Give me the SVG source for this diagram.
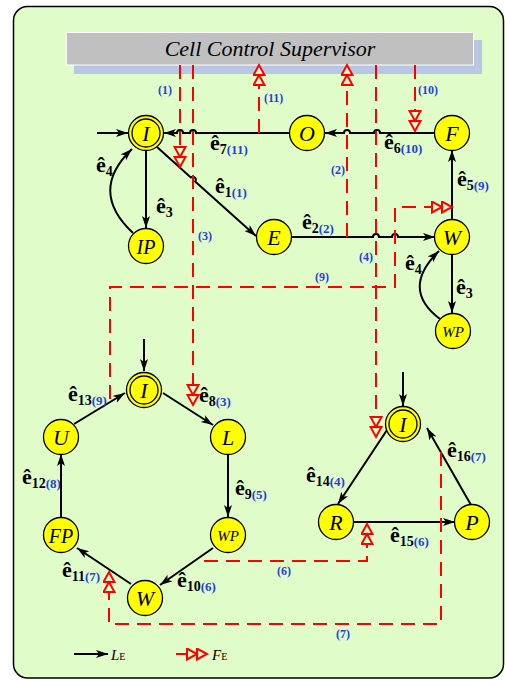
<svg xmlns="http://www.w3.org/2000/svg" width="505" height="686" viewBox="0 0 505 686">
<style>
.node circle{fill:#ffff00;stroke:#000;stroke-width:1.3}
.nt{font-family:"Liberation Serif",serif;font-style:italic;font-size:22px;text-anchor:middle;fill:#000}
.edge{fill:none;stroke:#000;stroke-width:2}
.fe{fill:none;stroke:#ff0000;stroke-width:2;stroke-dasharray:14 8}
.lab{font-family:"Liberation Serif",serif;font-weight:bold;font-size:22px;fill:#000}
.sub{font-size:14px}
.bl{font-size:13px;fill:#1f3fe0}
.num{font-family:"Liberation Serif",serif;font-weight:bold;font-size:12px;fill:#1f3fe0}
.leg{font-family:"Liberation Serif",serif;font-style:italic;font-size:15px;fill:#000}
</style>
<defs>
<marker id="ah" markerUnits="userSpaceOnUse" markerWidth="14" markerHeight="10" refX="12" refY="4" orient="auto" viewBox="0 0 14 10">
<path d="M0,0 L12,4 L0,8 L3,4 Z" fill="#000"/>
</marker>
<marker id="dah" markerUnits="userSpaceOnUse" markerWidth="24" markerHeight="14" refX="21" refY="6.5" orient="auto" viewBox="0 0 24 14">
<path d="M1,1 L11,6.5 L1,12 Z M11,1 L21,6.5 L11,12 Z" fill="#e0fcc8" stroke="#ff0000" stroke-width="2" stroke-linejoin="miter"/>
</marker>
</defs>
<rect x="13.5" y="6.5" width="490" height="671.5" rx="14" fill="#e0fcc8" stroke="#000" stroke-width="1.5"/>
<g id="supervisor">
<rect x="74" y="40" width="408" height="34" fill="#b8c8e4"/>
<rect x="66.5" y="32.5" width="407" height="32.5" fill="#c0c0c0" stroke="#fff" stroke-width="1"/>
<text x="270" y="56" font-family="Liberation Serif,serif" font-style="italic" font-size="22" text-anchor="middle" fill="#000">Cell Control Supervisor</text>
</g>
<g id="connectors">
<path class="edge" d="M97,133 H128" marker-end="url(#ah)"/>
<path class="edge" d="M290,133 H196 A3,3 0 0 0 190,133 H183 A3,3 0 0 0 177,133 H164" marker-end="url(#ah)"/>
<path class="edge" d="M435,133 H380 A3,3 0 0 0 374,133 H350 A3,3 0 0 0 344,133 H325" marker-end="url(#ah)"/>
<path class="edge" d="M452,220 V150" marker-end="url(#ah)"/>
<path class="edge" d="M291,237 H373 A3,3 0 0 1 379,237 H392 A3,3 0 0 1 398,237 H435" marker-end="url(#ah)"/>
<path class="edge" d="M157,147 L190.8,177.5 A3,3 0 0 1 195.2,181.5 L256,236" marker-end="url(#ah)"/>
<path class="edge" d="M146,151 V228" marker-end="url(#ah)"/>
<path class="edge" d="M133,233 Q88,191 132,149" marker-end="url(#ah)"/>
<path class="edge" d="M452,254 V313" marker-end="url(#ah)"/>
<path class="edge" d="M440,319 Q400,289 439,251" marker-end="url(#ah)"/>
<path class="edge" d="M144,339 V371" marker-end="url(#ah)"/>
<path class="edge" d="M163,393 L213,425" marker-end="url(#ah)"/>
<path class="edge" d="M228,454 V517" marker-end="url(#ah)"/>
<path class="edge" d="M213,548 L160,585" marker-end="url(#ah)"/>
<path class="edge" d="M131,584 L77,548" marker-end="url(#ah)"/>
<path class="edge" d="M61,518 V454" marker-end="url(#ah)"/>
<path class="edge" d="M74,424 L125,393" marker-end="url(#ah)"/>
<path class="edge" d="M403,372 V406" marker-end="url(#ah)"/>
<path class="edge" d="M387,430 L338,504" marker-end="url(#ah)"/>
<path class="edge" d="M353,522 H455" marker-end="url(#ah)"/>
<path class="edge" d="M471,505 L427,428" marker-end="url(#ah)"/>
<path class="fe" d="M180,65 V167" marker-end="url(#dah)"/>
<path class="fe" d="M193,65 V405" marker-end="url(#dah)"/>
<path class="fe" d="M259,133 V65" marker-end="url(#dah)"/>
<path class="fe" d="M347,237 V65" marker-end="url(#dah)"/>
<path class="fe" d="M376,65 V437" marker-end="url(#dah)"/>
<path class="fe" d="M415,65 V131" marker-end="url(#dah)"/>
<path class="fe" d="M110,399 V287 H395 V207 H452" marker-end="url(#dah)"/>
<path class="fe" d="M204,561 H367 V524" marker-end="url(#dah)"/>
<path class="fe" d="M441,452 V624 H109 V572" marker-end="url(#dah)"/>
</g>
<g id="node-I1" class="node"><circle cx="146" cy="133" r="17.5"/><circle cx="146" cy="133" r="14"/><text class="nt" x="146" y="141">I</text></g>
<g id="node-O" class="node"><circle cx="307" cy="133" r="17.5"/><text class="nt" x="307" y="141">O</text></g>
<g id="node-F" class="node"><circle cx="452" cy="133" r="17.5"/><text class="nt" x="452" y="141">F</text></g>
<g id="node-IP" class="node"><circle cx="146" cy="246" r="17.5"/><text class="nt" x="146" y="254" style="font-size:20px">IP</text></g>
<g id="node-E" class="node"><circle cx="274" cy="237" r="17.5"/><text class="nt" x="274" y="245">E</text></g>
<g id="node-W1" class="node"><circle cx="452" cy="237" r="17.5"/><text class="nt" x="452" y="245">W</text></g>
<g id="node-WP1" class="node"><circle cx="453" cy="331" r="17.5"/><text class="nt" x="453" y="337" style="font-size:15px">WP</text></g>
<g id="node-I2" class="node"><circle cx="144" cy="390" r="17.5"/><circle cx="144" cy="390" r="14"/><text class="nt" x="144" y="398">I</text></g>
<g id="node-L" class="node"><circle cx="228" cy="437" r="17.5"/><text class="nt" x="228" y="445">L</text></g>
<g id="node-U" class="node"><circle cx="61" cy="437" r="17.5"/><text class="nt" x="61" y="445">U</text></g>
<g id="node-WP2" class="node"><circle cx="228" cy="535" r="17.5"/><text class="nt" x="228" y="541" style="font-size:15px">WP</text></g>
<g id="node-FP" class="node"><circle cx="61" cy="535" r="17.5"/><text class="nt" x="61" y="543" style="font-size:20px">FP</text></g>
<g id="node-W2" class="node"><circle cx="145" cy="598" r="17.5"/><text class="nt" x="145" y="606">W</text></g>
<g id="node-I3" class="node"><circle cx="403" cy="424" r="17.5"/><circle cx="403" cy="424" r="14"/><text class="nt" x="403" y="432">I</text></g>
<g id="node-R" class="node"><circle cx="336" cy="522" r="17.5"/><text class="nt" x="336" y="530">R</text></g>
<g id="node-P" class="node"><circle cx="472" cy="522" r="17.5"/><text class="nt" x="472" y="530">P</text></g>
<g id="labels">
<text class="lab" x="210" y="150">ê<tspan class="sub" dy="4">7</tspan><tspan class="bl">(11)</tspan></text>
<text class="lab" x="215" y="193">ê<tspan class="sub" dy="4">1</tspan><tspan class="bl">(1)</tspan></text>
<text class="lab" x="156" y="213">ê<tspan class="sub" dy="4">3</tspan></text>
<text class="lab" x="96" y="172">ê<tspan class="sub" dy="4">4</tspan></text>
<text class="lab" x="384" y="149">ê<tspan class="sub" dy="4">6</tspan><tspan class="bl">(10)</tspan></text>
<text class="lab" x="457" y="186">ê<tspan class="sub" dy="4">5</tspan><tspan class="bl">(9)</tspan></text>
<text class="lab" x="302" y="229">ê<tspan class="sub" dy="4">2</tspan><tspan class="bl">(2)</tspan></text>
<text class="lab" x="405" y="270">ê<tspan class="sub" dy="4">4</tspan></text>
<text class="lab" x="456" y="294">ê<tspan class="sub" dy="4">3</tspan></text>
<text class="lab" x="68" y="401">ê<tspan class="sub" dy="4">13</tspan><tspan class="bl">(9)</tspan></text>
<text class="lab" x="199" y="402">ê<tspan class="sub" dy="4">8</tspan><tspan class="bl">(3)</tspan></text>
<text class="lab" x="22" y="484">ê<tspan class="sub" dy="4">12</tspan><tspan class="bl">(8)</tspan></text>
<text class="lab" x="235" y="495">ê<tspan class="sub" dy="4">9</tspan><tspan class="bl">(5)</tspan></text>
<text class="lab" x="62" y="577">ê<tspan class="sub" dy="4">11</tspan><tspan class="bl">(7)</tspan></text>
<text class="lab" x="177" y="587">ê<tspan class="sub" dy="4">10</tspan><tspan class="bl">(6)</tspan></text>
<text class="lab" x="306" y="482">ê<tspan class="sub" dy="4">14</tspan><tspan class="bl">(4)</tspan></text>
<text class="lab" x="447" y="457">ê<tspan class="sub" dy="4">16</tspan><tspan class="bl">(7)</tspan></text>
<text class="lab" x="390" y="542">ê<tspan class="sub" dy="4">15</tspan><tspan class="bl">(6)</tspan></text>
<text class="num" x="158" y="94">(1)</text>
<text class="num" x="264" y="102">(11)</text>
<text class="num" x="418" y="94">(10)</text>
<text class="num" x="331" y="174">(2)</text>
<text class="num" x="198" y="240">(3)</text>
<text class="num" x="359" y="261">(4)</text>
<text class="num" x="315" y="281">(9)</text>
<text class="num" x="277" y="575">(6)</text>
<text class="num" x="336" y="638">(7)</text>
</g>
<g id="legend">
<path class="edge" d="M74,654 H108" marker-end="url(#ah)"/>
<text class="leg" x="111" y="660">L<tspan style="font-style:normal;font-size:10px">E</tspan></text>
<path d="M176,654 H207" fill="none" stroke="#ff0000" stroke-width="2" marker-end="url(#dah)"/>
<text class="leg" x="212" y="660">F<tspan style="font-style:normal;font-size:10px">E</tspan></text>
</g>
</svg>
